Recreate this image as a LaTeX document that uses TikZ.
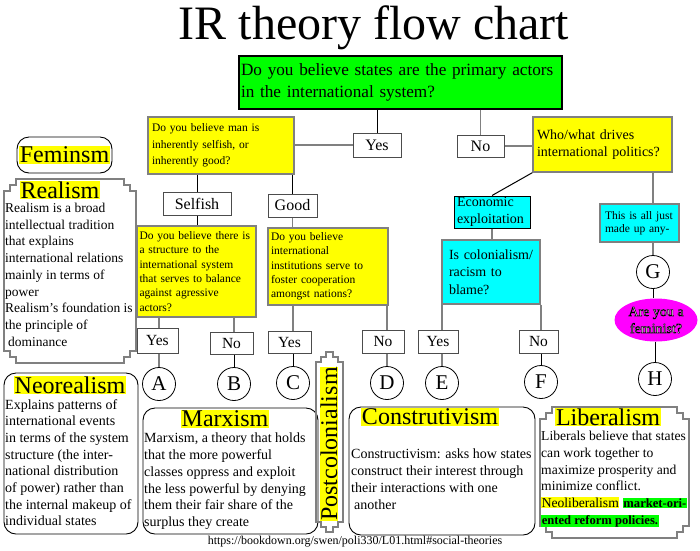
\documentclass[tikz,border=0pt]{standalone}
\usepackage{fontspec}
\setmainfont{Liberation Serif}
\usetikzlibrary{positioning,shapes.geometric}
\definecolor{qyellow}{RGB}{255,255,0}
\definecolor{qgreen}{RGB}{0,255,0}
\definecolor{qcyan}{RGB}{0,255,255}
\definecolor{qmagenta}{RGB}{255,0,255}
\newcommand{\fsz}[2]{\fontsize{#1}{#2}\selectfont}
\newcommand{\hlbox}[2]{{\setlength{\fboxsep}{0.6pt}\colorbox{#1}{#2}}}
\newcommand{\outlined}[1]{{\color{white}\special{pdf:literal direct 0 G 2 Tr 0.5 w}#1\special{pdf:literal direct 0 Tr}}}
\newcommand{\scrollframe}[5]{%
    \draw[frame] (#1,{#2+#5}) -- ({#1+#5/2},{#2+#5}) -- ({#1+#5/2},{#2+#5/2}) -- ({#1+#5},{#2+#5/2}) -- ({#1+#5},#2)
        -- ({#3-#5},#2) -- ({#3-#5},{#2+#5/2}) -- ({#3-#5/2},{#2+#5/2}) -- ({#3-#5/2},{#2+#5}) -- (#3,{#2+#5})
        -- (#3,{#4-#5}) -- ({#3-#5/2},{#4-#5}) -- ({#3-#5/2},{#4-#5/2}) -- ({#3-#5},{#4-#5/2}) -- ({#3-#5},#4)
        -- ({#1+#5},#4) -- ({#1+#5},{#4-#5/2}) -- ({#1+#5/2},{#4-#5/2}) -- ({#1+#5/2},{#4-#5}) -- (#1,{#4-#5}) -- cycle;
}
\tikzset{
    ybox/.style={rectangle, draw=gray, line width=1.4pt, fill=qyellow, align=left,
        inner ysep=0pt, font=\fsz{11.5}{14.3}},
    cbox/.style={rectangle, draw=gray, line width=1.4pt, fill=qcyan, align=left,
        inner ysep=0pt, font=\fsz{14}{17}},
    abox/.style={rectangle, draw=black!70, line width=1pt, fill=white,
        inner sep=0pt, font=\fsz{16}{18}},
    letter/.style={circle, draw=black, line width=0.8pt, fill=white,
        minimum size=33pt, inner sep=0pt, font=\fsz{21}{24}},
    link/.style={draw=gray, line width=1.4pt},
    blink/.style={draw=black, line width=1pt},
    frame/.style={draw=gray, line width=1.3pt},
    rbox/.style={rectangle, draw=black, line width=0.9pt, rounded corners=12pt},
    htitle/.style={fill=qyellow, inner sep=0.6pt, font=\fsz{24}{26}},
    body/.style={anchor=north west, align=left, inner sep=0pt, font=\fsz{14}{16.7}}
}
\begin{document}
\begin{tikzpicture}[x=1pt, y=-1pt]
    \useasboundingbox (0,0) rectangle (700,550);
    \node[font=\fsz{48}{52}] (title) at (374,28) {IR theory flow chart};
    \node[rectangle, draw=black, line width=1.5pt, fill=qgreen, align=left, inner xsep=2pt,
        text width=319pt, minimum height=53pt, font=\fsz{17.2}{22}] (states) at (400.5,82.5)
        {Do you believe states are the primary actors\\in the international system?};
    \node[abox, minimum width=48pt, minimum height=24pt] (yes1) at (377,145) {Yes};
    \node[abox, minimum width=47pt, minimum height=22pt] (no1) at (480.5,146) {No};
    % left branch
    \node[ybox, inner xsep=4pt, text width=138pt, minimum height=57pt, font=\fsz{11.5}{16.5}] (man) at (221,145.5)
        {Do you believe man is\\inherently selfish, or\\inherently good?};
    \node[abox, minimum width=68pt, minimum height=23pt] (selfish) at (197,203.5) {Selfish};
    \node[abox, minimum width=49pt, minimum height=23pt] (good) at (292.5,205.5) {Good};
    \node[ybox, inner xsep=2.5pt, text width=114pt, minimum height=91pt] (balance) at (196.5,271.5)
        {Do you believe there is\\a structure to the\\international system\\that serves to balance\\against agressive\\actors?};
    \node[ybox, inner xsep=3pt, text width=114pt, minimum height=77pt] (instit) at (328,266.5)
        {Do you believe\\international\\institutions serve to\\foster cooperation\\amongst nations?};
    % right branch
    \node[ybox, inner xsep=4pt, text width=131pt, minimum height=55pt, font=\fsz{14}{17}] (drives) at (602.5,144.5)
        {Who/what drives\\international politics?};
    \node[cbox, draw=black, line width=1pt, inner xsep=3pt, text width=70pt, minimum height=32pt] (econ) at (492,212)
        {Economic\\exploitation};
    \node[cbox, inner xsep=7pt, text width=84pt, minimum height=64pt, font=\fsz{14}{17.5}] (colon) at (491,272)
        {Is colonialism/\\racism to\\blame?};
    \node[cbox, inner xsep=5pt, text width=69pt, minimum height=38pt, font=\fsz{11.5}{13.5}] (madeup) at (639.5,223)
        {This is all just\\made up any-};
    \node[letter] (G) at (653,272) {G};
    \node[ellipse, fill=qmagenta, minimum width=83pt, minimum height=43pt, inner sep=0pt,
        align=center, font=\fsz{14}{17}] (feminist) at (656,320)
        {\outlined{Are you a}\\\outlined{feminist?}};
    % answers
    \node[abox, minimum width=41pt, minimum height=25pt, font=\fsz{15.5}{18}] (yesA) at (157.5,340.5) {Yes};
    \node[abox, minimum width=43pt, minimum height=22pt, font=\fsz{15.5}{18}] (noB) at (231.5,343) {No};
    \node[abox, minimum width=43pt, minimum height=22pt, font=\fsz{15.5}{18}] (yesC) at (289.5,342) {Yes};
    \node[abox, minimum width=42pt, minimum height=23pt, font=\fsz{15.5}{18}] (noD) at (383,341.5) {No};
    \node[abox, minimum width=40pt, minimum height=23pt, font=\fsz{15.5}{18}] (yesE) at (438,341.5) {Yes};
    \node[abox, minimum width=39pt, minimum height=23pt, font=\fsz{15.5}{18}] (noF) at (538.5,341.5) {No};
    \node[letter] (A) at (159,384) {A};
    \node[letter] (B) at (234,384) {B};
    \node[letter] (C) at (293,383) {C};
    \node[letter] (D) at (387,383) {D};
    \node[letter] (E) at (442,383) {E};
    \node[letter] (F) at (541,382) {F};
    \node[letter] (H) at (655,379) {H};
    % connectors
    \draw[blink] (yes1.north |- states.south) -- (yes1.north);
    \draw[link] (no1.north |- states.south) -- (no1.north);
    \draw[link] (yes1.west) -- (yes1.west -| man.east);
    \draw[link] (no1.east) -- (no1.east -| drives.west);
    \draw[blink] (selfish.north |- man.south) -- (selfish.north);
    \draw[blink] (good.north |- man.south) -- (good.north);
    \draw[blink] (selfish.south) -- (selfish.south |- balance.north);
    \draw[link] (good.south) -- (good.south |- instit.north);
    \draw[link] (A |- balance.south) -- (A |- yesA.north);
    \draw[link] (A |- yesA.south) -- (A.north);
    \draw[link] (B |- balance.south) -- (B |- noB.north);
    \draw[blink] (B |- noB.south) -- (B.north);
    \draw[link] (C |- instit.south) -- (C |- yesC.north);
    \draw[blink] (C |- yesC.south) -- (C.north);
    \draw[link] (D |- instit.south) -- (D |- noD.north);
    \draw[link] (D |- noD.south) -- (D.north);
    \draw[blink] (drives.south west) -- (econ.north);
    \draw[link] (econ.south) -- (econ.south |- colon.north);
    \draw[link] (E |- colon.south) -- (E |- yesE.north);
    \draw[link] (E |- yesE.south) -- (E.north);
    \draw[link] (F |- colon.south) -- (F |- noF.north);
    \draw[blink] (F |- noF.south) -- (F.north);
    \draw[link] (G |- drives.south) -- (G |- madeup.north);
    \draw[link] (G |- madeup.south) -- (G.north);
    \draw[blink] (G.south) -- (G.south |- feminist.north);
    \draw[blink] (H |- feminist.south) -- (H.north);
    % theories
    \node[rbox, minimum width=95pt, minimum height=36pt, inner sep=0pt, font=\fsz{24}{26}] (feminsm) at (64.5,155)
        {\hlbox{qyellow}{Feminsm}};
    \scrollframe{4}{179}{136}{363}{12}
    \node[htitle] (realism) at (60,190) {Realism};
    \node[body, font=\fsz{13.5}{16.7}] (realismtext) at (5,203)
        {Realism is a broad\\intellectual tradition\\that explains\\international relations\\mainly in terms of\\power\\Realism's foundation is\\the principle of\\\hspace{3pt}dominance};
    \draw[rbox] (4,373) rectangle (138,534);
    \node[htitle] (neoreal) at (70,385) {Neorealism};
    \node[body] (neorealtext) at (5,399)
        {Explains patterns of\\international events\\in terms of the system\\structure (the inter-\\national distribution\\of power) rather than\\the internal makeup of\\individual states};
    \draw[rbox] (143,408) rectangle (318,534);
    \node[htitle] (marx) at (225,419) {Marxism};
    \node[body] (marxtext) at (144,433)
        {Marxism, a theory that holds\\that the more powerful\\classes oppress and exploit\\the less powerful by denying\\them their fair share of the\\surplus they create};
    \scrollframe{316}{352}{343}{532}{10}
    \node[htitle, rotate=90] (postcol) at (329,444) {Postcolonialism};
    \draw[rbox] (349,407) rectangle (535,535);
    \node[htitle] (constr) at (430,417) {Construtivism};
    \node[body] (constrtext) at (351,449)
        {Constructivism: asks how states\\construct their interest through\\their interactions with one\\\hspace{3pt}another};
    \scrollframe{540}{407}{689}{538}{12}
    \node[htitle] (liberal) at (608,417) {Liberalism};
    \node[body, font=\fsz{13.6}{16.7}] (liberaltext) at (541,431)
        {Liberals believe that states\\can work together to\\maximize prosperity and\\minimize conflict.\\\hlbox{qyellow}{Neoliberalism} \hlbox{qgreen}{\fsz{12.6}{16.7}\textbf{market-ori-}}\\\hlbox{qgreen}{\fsz{12.6}{16.7}\textbf{ented reform policies.}}};
    \node[font=\fsz{12}{13}] (source) at (355,542) {https://bookdown.org/swen/poli330/L01.html\#social-theories};
\end{tikzpicture}
\end{document}
